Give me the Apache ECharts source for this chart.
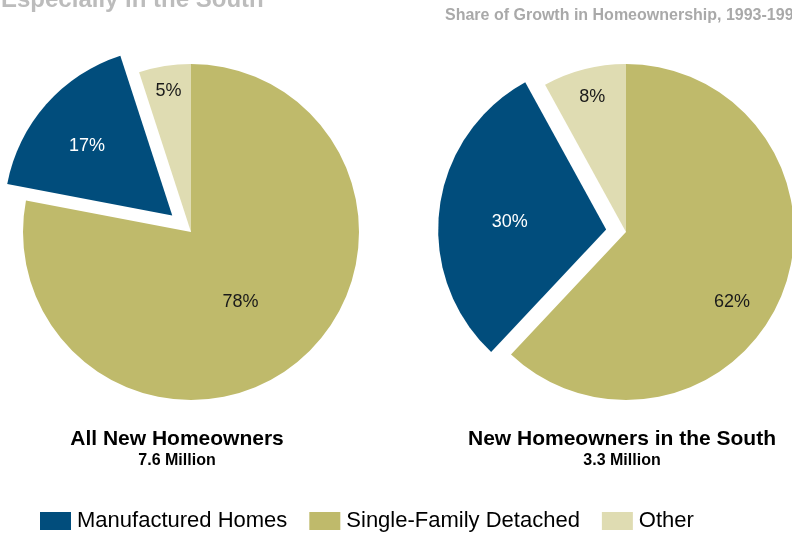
<!DOCTYPE html>
<html>
<head>
<meta charset="utf-8">
<script src="https://cdn.jsdelivr.net/npm/echarts@6/dist/echarts.min.js"></script>
<style>
  html, body { margin: 0; padding: 0; background: #fff; }
  #chart { width: 792px; height: 537px; }
</style>
</head>
<body>
<div id="chart"></div>
<script>
// categories in drawing order (clockwise from 12 o'clock)
var categories = ['Single-Family Detached', 'Manufactured Homes', 'Other']
var legendOrder = ['Manufactured Homes', 'Single-Family Detached', 'Other']
// share of growth, percent
var allValues = [78, 17, 5]
var southValues = [62, 30, 8]
var captions = ['All New Homeowners', 'New Homeowners in the South']
var totals = ['7.6 Million', '3.3 Million']

var colors = {
  'Single-Family Detached': '#bfba6b',
  'Manufactured Homes': '#014d7c',
  'Other': '#dfdcb2'
}
var sans = '"Liberation Sans", Arial, sans-serif'

// label nudges, so the text sits where the original put it
var allNudge = [[-6, 3], [-20, -12], [-9, -55]]
var southNudge = [[25, 38], [-10, 3], [-12, -51]]

function pieData(values, nudge) {
  return categories.map(function (name, i) {
    var lbl = {
      color: name === 'Manufactured Homes' ? '#fff' : '#1a1a1a',
      offset: nudge[i]
    }
    return {
      name: name,
      value: values[i],
      selected: name === 'Manufactured Homes',
      itemStyle: { color: colors[name] },
      label: lbl,
      select: { label: lbl, itemStyle: { color: colors[name] } }
    }
  })
}

function pieSeries(center, values, nudge, shift) {
  return {
    type: 'pie',
    radius: 168,
    center: center,
    startAngle: 90,
    clockwise: true,
    selectedMode: 'multiple',
    selectedOffset: shift,
    animation: false,
    silent: true,
    label: {
      show: true,
      position: 'inside',
      formatter: '{c}%',
      fontFamily: sans,
      fontSize: 18
    },
    labelLine: { show: false },
    emphasis: { disabled: true },
    data: pieData(values, nudge)
  }
}

var chart = echarts.init(document.getElementById('chart'))
chart.setOption({
  backgroundColor: '#fff',
  title: [
    {
      text: 'Especially in the South',
      left: -4, top: -17,
      textStyle: { color: '#bcbcbc', fontSize: 24, fontWeight: 'bold', fontFamily: sans }
    },
    {
      text: 'Share of Growth in Homeownership, 1993-1999',
      left: 440, top: 3,
      textStyle: { color: '#a9a9a9', fontSize: 16, fontWeight: 'bold', fontFamily: sans }
    },
    {
      text: captions[0], subtext: totals[0],
      left: 172, top: 424, textAlign: 'center', itemGap: 3,
      textStyle: { color: '#000', fontSize: 21, fontWeight: 'bold', fontFamily: sans },
      subtextStyle: { color: '#000', fontSize: 16, fontWeight: 'bold', fontFamily: sans }
    },
    {
      text: captions[1], subtext: totals[1],
      left: 617, top: 424, textAlign: 'center', itemGap: 3,
      textStyle: { color: '#000', fontSize: 21, fontWeight: 'bold', fontFamily: sans },
      subtextStyle: { color: '#000', fontSize: 16, fontWeight: 'bold', fontFamily: sans }
    }
  ],
  legend: {
    data: legendOrder,
    left: 40, top: 510,
    padding: 0,
    icon: 'rect',
    itemWidth: 31, itemHeight: 18,
    itemGap: 22,
    selectedMode: false,
    textStyle: { color: '#000', fontSize: 22, fontFamily: sans, padding: [0, 0, 0, 1] }
  },
  series: [
    pieSeries([191, 232], allValues, allNudge, 25),
    pieSeries([626, 232], southValues, southNudge, 20)
  ]
})
</script>
</body>
</html>
